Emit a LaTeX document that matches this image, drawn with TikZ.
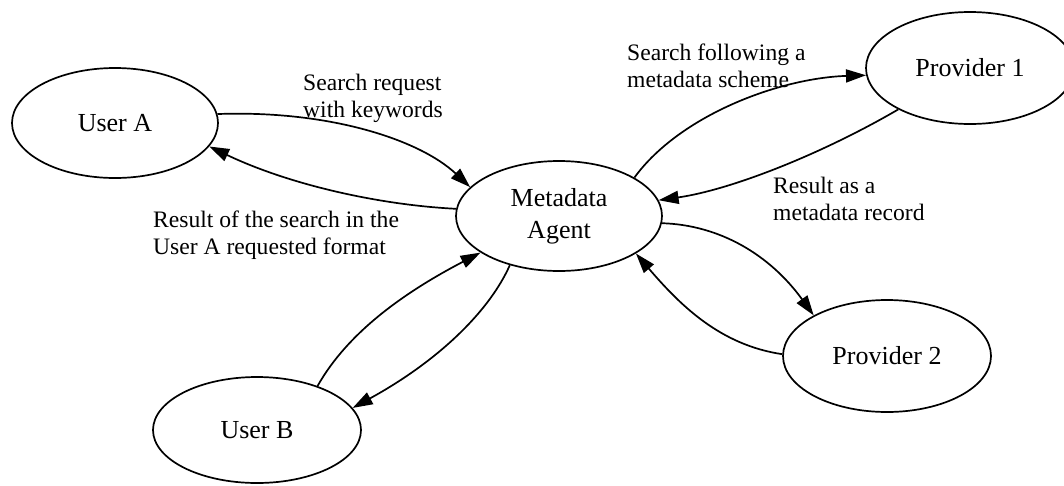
\documentclass[tikz,border=0pt]{standalone}
\usepackage{fontspec}
\setmainfont{Liberation Serif}
\usetikzlibrary{arrows.meta,shapes.geometric}

\begin{document}
\begin{tikzpicture}[x=1pt,y=-1pt,
  ent/.style={draw, ellipse, line width=1.7pt, minimum width=206pt, minimum height=110pt,
    inner sep=0pt, align=center, font=\fontsize{26}{32}\selectfont},
  lbl/.style={anchor=base west, inner sep=0pt, font=\fontsize{23.6}{27}\selectfont},
  flow/.style={line width=1.7pt, -{Triangle[length=20pt,width=13pt]}}
]
\clip (0,0) rectangle (1064,485);

\node[ent] (UA) at (115,123) {User A};
\node[ent] (MA) at (559,216) {Metadata\\Agent};
\node[ent, minimum width=208pt, minimum height=112pt] (P1) at (970,68) {Provider 1};
\node[ent, minimum width=208pt, minimum height=112pt] (P2) at (887,356) {Provider 2};
\node[ent, minimum width=208pt, minimum height=106pt] (UB) at (257,430) {User B};

\node[lbl] (L1) at (303,90) {\begin{tabular}[t]{@{}l@{}}Search request\\with keywords\end{tabular}};
\node[lbl] (L2) at (153,227) {\begin{tabular}[t]{@{}l@{}}Result of the search in the\\User A requested format\end{tabular}};
\node[lbl] (L3) at (627,60) {\begin{tabular}[t]{@{}l@{}}Search following a\\metadata scheme\end{tabular}};
\node[lbl] (L4) at (773,193) {\begin{tabular}[t]{@{}l@{}}Result as a\\metadata record\end{tabular}};

\draw[flow] (UA.5) .. controls (330,110) and (420,140) .. (MA.162);
\draw[flow] (MA.176) .. controls (380,205) and (290,185) .. (UA.-14);
\draw[flow] (MA.27) .. controls (680,115) and (780,78) .. (P1.184);
\draw[flow] (P1.210) .. controls (820,155) and (730,190) .. (MA.9);
\draw[flow] (MA.-4) .. controls (720,225) and (770,255) .. (P2.151);
\draw[flow] (P2.179) .. controls (720,345) and (680,305) .. (MA.-26);
\draw[flow] (UB.36) .. controls (348,332) and (405,292) .. (MA.205);
\draw[flow] (MA.225) .. controls (490,310) and (440,360) .. (UB.13);
\end{tikzpicture}
\end{document}
